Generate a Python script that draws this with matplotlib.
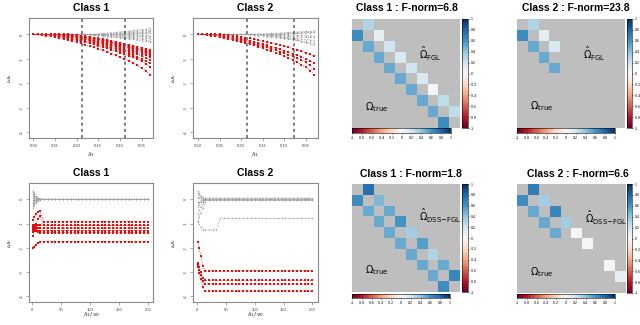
import numpy as np
import matplotlib
matplotlib.use('Agg')
import matplotlib.pyplot as plt

plt.rcParams['font.family'] = ['Liberation Sans', 'DejaVu Sans']
plt.rcParams['mathtext.fontset'] = 'dejavusans'

W, H = 640, 325

# ---------------- solution paths, top row (x = lambda_1) ----------------
lam = [0.30, 0.29, 0.28, 0.27, 0.26, 0.25, 0.24, 0.23, 0.22, 0.21, 0.20, 0.19, 0.18, 0.17,
       0.16, 0.15, 0.14, 0.13, 0.12, 0.11, 0.10, 0.09, 0.08, 0.07, 0.06, 0.05, 0.04, 0.03]

c1_red_top = [
    [0, 0, -0.02, -0.05, -0.08, -0.11, -0.15, -0.19, -0.23, -0.27, -0.32, -0.37, -0.42, -0.47,
     -0.53, -0.59, -0.65, -0.71, -0.78, -0.85, -0.92, -1.0, -1.08, -1.17, -1.26, -1.36, -1.5, -1.65],
    [0, 0, 0, -0.02, -0.04, -0.07, -0.1, -0.13, -0.17, -0.2, -0.24, -0.28, -0.32, -0.36,
     -0.41, -0.46, -0.51, -0.56, -0.62, -0.68, -0.74, -0.8, -0.87, -0.94, -1.02, -1.1, -1.2, -1.32],
    [0, 0, 0, 0, -0.02, -0.04, -0.07, -0.1, -0.13, -0.16, -0.2, -0.24, -0.28, -0.32,
     -0.36, -0.41, -0.46, -0.51, -0.56, -0.61, -0.67, -0.73, -0.79, -0.85, -0.92, -0.99, -1.08, -1.18],
    [0] * 5 + [-0.02, -0.04, -0.06, -0.09, -0.12, -0.15, -0.18, -0.22, -0.26, -0.3, -0.34, -0.39,
               -0.43, -0.48, -0.53, -0.58, -0.64, -0.7, -0.76, -0.82, -0.88, -0.96, -1.04],
    [0] * 6 + [-0.02, -0.04, -0.06, -0.09, -0.12, -0.15, -0.18, -0.22, -0.26, -0.3, -0.34, -0.38,
               -0.43, -0.47, -0.52, -0.57, -0.62, -0.67, -0.73, -0.79, -0.86, -0.93],
    [0] * 7 + [-0.01, -0.03, -0.05, -0.08, -0.11, -0.14, -0.17, -0.21, -0.25, -0.29, -0.33, -0.37,
               -0.41, -0.46, -0.5, -0.55, -0.6, -0.65, -0.7, -0.77, -0.85],
    [0] * 8 + [-0.01, -0.03, -0.05, -0.07, -0.1, -0.13, -0.16, -0.2, -0.24, -0.28, -0.32, -0.36,
               -0.4, -0.44, -0.49, -0.54, -0.59, -0.64, -0.7, -0.77],
    [0] * 8 + [-0.02, -0.04, -0.06, -0.08, -0.11, -0.14, -0.17, -0.2, -0.24, -0.27, -0.31, -0.35,
               -0.39, -0.43, -0.47, -0.52, -0.57, -0.62, -0.66, -0.7],
    [0] * 9 + [-0.01, -0.03, -0.05, -0.07, -0.1, -0.13, -0.16, -0.19, -0.22, -0.26, -0.3, -0.34,
               -0.38, -0.42, -0.46, -0.5, -0.54, -0.59, -0.64],
]
c1_gray_top = [
    [0] * 15 + [0.02, 0.04, 0.05, 0.07, 0.09, 0.1, 0.12, 0.14, 0.16, 0.18, 0.2, 0.22, 0.25],
    [0] * 17 + [0.02, 0.03, 0.05, 0.06, 0.08, 0.1, 0.11, 0.13, 0.14, 0.16, 0.18],
    [0] * 18 + [0.01, 0.02, 0.03, 0.04, 0.06, 0.07, 0.08, 0.09, 0.1, 0.12],
    [0] * 20 + [0.01, 0.02, 0.02, 0.03, 0.04, 0.05, 0.06, 0.07],
    [0] * 21 + [0.01, 0.01, 0.02, 0.03, 0.03, 0.04, 0.05],
    [0] * 19 + [-0.01, -0.01, -0.02, -0.02, -0.03, -0.03, -0.04, -0.04, -0.05],
    [0] * 16 + [-0.01, -0.01, -0.02, -0.02, -0.03, -0.04, -0.05, -0.06, -0.07, -0.08, -0.09, -0.1],
    [0] * 14 + [-0.01, -0.02, -0.03, -0.04, -0.05, -0.06, -0.07, -0.08, -0.1, -0.11, -0.13, -0.14,
                -0.16, -0.18],
    [0] * 13 + [-0.01, -0.02, -0.03, -0.05, -0.06, -0.08, -0.09, -0.11, -0.12, -0.14, -0.16, -0.18,
                -0.2, -0.22, -0.25],
    [0] * 12 + [-0.01, -0.02, -0.04, -0.05, -0.07, -0.09, -0.1, -0.12, -0.14, -0.16, -0.18, -0.2,
                -0.23, -0.25, -0.28, -0.32],
]

c2_red_top = [
    [0, 0, -0.02, -0.05, -0.08, -0.11, -0.14, -0.18, -0.22, -0.26, -0.3, -0.35, -0.4, -0.45,
     -0.5, -0.56, -0.62, -0.68, -0.74, -0.81, -0.88, -0.96, -1.04, -1.13, -1.23, -1.34, -1.48, -1.65],
    [0, 0, 0, -0.02, -0.04, -0.07, -0.1, -0.13, -0.17, -0.21, -0.25, -0.29, -0.33, -0.38,
     -0.43, -0.48, -0.53, -0.58, -0.64, -0.7, -0.76, -0.83, -0.9, -0.97, -1.05, -1.14, -1.26, -1.4],
    [0, 0, 0, 0, -0.02, -0.04, -0.06, -0.09, -0.12, -0.15, -0.19, -0.23, -0.27, -0.31,
     -0.35, -0.4, -0.45, -0.5, -0.55, -0.6, -0.66, -0.72, -0.78, -0.84, -0.91, -0.99, -1.08, -1.18],
    [0] * 6 + [-0.01, -0.03, -0.05, -0.07, -0.1, -0.13, -0.16, -0.19, -0.23, -0.27, -0.31, -0.35,
               -0.39, -0.43, -0.48, -0.53, -0.58, -0.63, -0.69, -0.75, -0.82, -0.9],
]
c2_gray_top = [
    [0] * 14 + [0.01, 0.02, 0.03, 0.04, 0.05, 0.06, 0.07, 0.08, 0.09, 0.1, 0.11, 0.12, 0.13, 0.15],
    [0] * 17 + [0.01, 0.01, 0.02, 0.03, 0.04, 0.04, 0.05, 0.06, 0.07, 0.08, 0.1],
    [0] * 20 + [0.01, 0.02, 0.03, 0.04, 0.05, 0.06, 0.07, 0.08],
    [0] * 19 + [-0.01, -0.02, -0.02, -0.03, -0.04, -0.04, -0.05, -0.06, -0.07],
    [0] * 15 + [-0.01, -0.02, -0.03, -0.04, -0.05, -0.06, -0.07, -0.08, -0.09, -0.1, -0.11, -0.12, -0.14],
    [0] * 13 + [-0.01, -0.02, -0.04, -0.05, -0.07, -0.08, -0.1, -0.11, -0.13, -0.15, -0.17, -0.19,
                -0.21, -0.23, -0.26],
    [0] * 12 + [-0.01, -0.03, -0.05, -0.07, -0.09, -0.11, -0.13, -0.15, -0.17, -0.19, -0.22, -0.24,
                -0.27, -0.3, -0.33, -0.37],
    [0] * 16 + [-0.02, -0.04, -0.07, -0.1, -0.13, -0.16, -0.2, -0.24, -0.29, -0.34, -0.39, -0.45],
]
c1_vlines = [0.187, 0.089]
c2_vlines = [0.187, 0.078]

# ---------------- solution paths, bottom row (x = lambda_1 / nu_0) ----------------
ratio = [1, 3, 6, 10, 13.3, 20, 26.7, 33.3, 40, 46.7, 53.3, 60, 66.7, 73.3, 80, 86.7, 93.3,
         100, 106.7, 113.3, 120, 126.7, 133.3, 140, 146.7, 153.3, 160, 166.7, 173.3, 180,
         186.7, 193.3, 200]

# (early values, level reached afterwards)
c1_red_bot = [
    ([-0.85, -0.75, -0.62, -0.53, -0.5], -0.92),
    ([-1.53, -1.3, -1.0, -0.8, -0.7], -1.08),
    ([-1.05, -1.06, -1.07, -1.08, -1.08], -1.08),
    ([-1.12, -1.14, -1.16, -1.18, -1.19], -1.19),
    ([-1.2, -1.2, -1.19, -1.19, -1.19], -1.19),
    ([-1.25, -1.27, -1.28, -1.29, -1.29], -1.29),
    ([-1.33, -1.31, -1.3, -1.29, -1.29], -1.29),
    ([-1.15, -1.22, -1.3, -1.35, -1.37], -1.37),
    ([-2.0, -1.95, -1.88, -1.8, -1.74], -1.74),
]
c1_gray_bot = [
    ([0.35, 0.25, 0.15, 0.06, 0.02], 0),
    ([0.28, 0.2, 0.1, 0.04, 0.01], 0),
    ([0.2, 0.14, 0.07, 0.03, 0.0], 0),
    ([0.12, 0.08, 0.04, 0.01, 0.0], 0),
    ([0.05, 0.03, 0.02, 0.0, 0.0], 0),
    ([-0.05, -0.03, -0.02, 0.0, 0.0], 0),
    ([-0.12, -0.08, -0.04, -0.01, 0.0], 0),
    ([-0.2, -0.14, -0.07, -0.03, 0.0], 0),
    ([-0.28, -0.2, -0.1, -0.04, -0.01], 0),
    ([-0.37, -0.26, -0.15, -0.06, -0.02], 0),
]
c2_red_bot = [
    ([-1.77, -2.0, -2.35, -2.75, -2.95], -2.95),
    ([-2.63, -2.8, -3.0, -3.25, -3.34], -3.34),
    ([-2.72, -2.9, -3.12, -3.38, -3.49], -3.49),
    ([-2.8, -3.02, -3.3, -3.62, -3.79], -3.79),
]
c2_gray_bot = [
    ([0.35, 0.26, 0.15, 0.07, 0.05], 0.05),
    ([0.25, 0.18, 0.1, 0.04, 0.02], 0.02),
    ([0.1, 0.06, 0.03, 0.01, 0.0], 0.0),
    ([-0.15, -0.1, -0.06, -0.03, -0.02], -0.02),
    ([-0.3, -0.22, -0.12, -0.06, -0.05], -0.05),
    ([-0.6, -0.45, -0.3, -0.15, -0.05], -0.05),
    ([-0.95, -0.75, -0.55, -0.35, -0.1], 0.0),
    ([-0.9, -1.0, -1.15, -1.26, -1.26, -1.26, -1.26, -1.26], -0.78),
]

# ---------------- precision matrices (10 x 10, first off-diagonal) ----------------
true_c1 = [0.62, 0.5, 0.5, 0.5, 0.5, 0.5, 0.5, 0.5, 0.62]
fgl_c1 = [0.3, 0.1, 0.2, 0.15, 0.2, 0.15, 0.02, 0.25, 0.25]
dss_c1 = [0.75, 0.45, 0.5, 0.6, 0.35, 0.55, 0.3, 0.5, 0.65]
true_c2 = [0.62, 0.5, 0.5, 0.5, 0, 0, 0, 0, 0]
fgl_c2 = [0.3, 0.1, 0.15, 0, 0, 0, 0, 0, 0]
dss_c2 = [0.7, 0.35, 0.65, 0.35, 0.02, 0.02, 0, 0.02, 0.1]

cbar_ticks = [-1, -0.8, -0.6, -0.4, -0.2, 0, 0.2, 0.4, 0.6, 0.8, 1]
cbar_labels = ['-1', '-0.8', '-0.6', '-0.4', '-0.2', '0', '0.2', '0.4', '0.6', '0.8', '1']

RED = '#e01010'
GRAY = '#a0a0a0'


def px_axes(fig, x0, y0, x1, y1):
    return fig.add_axes([x0 / W, 1 - y1 / H, (x1 - x0) / W, (y1 - y0) / H])


def fig_text(fig, x, y, s, **kw):
    fig.text(x / W, 1 - y / H, s, **kw)


def expand(early, level):
    return early + [level] * (len(ratio) - len(early))


def style_axes(ax):
    for sp in ax.spines.values():
        sp.set_color('#8a8a8a')
        sp.set_linewidth(0.8)
    ax.tick_params(length=2, width=0.5, color='#8a8a8a', labelsize=3, labelcolor='#404040', pad=2)
    ax.set_yticks([0, -1, -2, -3, -4])
    ax.set_yticklabels(['0', '-1', '-2', '-3', '-4'], rotation=90, va='center')


def path_panel(fig, box, x, red, gray, xlim, vlines=None):
    ax = px_axes(fig, *box)
    for g in gray:
        ax.plot(x, g, color=GRAY, ls='--', lw=0.4, marker='.', ms=1.9, mew=0)
    for r in red:
        ax.plot(x, r, color=RED, ls=':', lw=0.6, marker='s', ms=1.9, mew=0, zorder=3)
    if vlines:
        for v in vlines:
            ax.axvline(v, color='#5a5a6e', ls='--', lw=1.1, dashes=(2, 2), zorder=4)
    ax.set_xlim(*xlim)
    ax.set_ylim(-4.23, 0.67)
    style_axes(ax)
    return ax


def build_matrix(true, est):
    m = np.zeros((10, 10))
    for i in range(9):
        m[i + 1, i] = true[i]
        m[i, i + 1] = est[i]
    return np.ma.masked_where(m == 0, m)


def heat_panel(fig, img_box, vbar_box, hbar_box, true, est, est_label, est_xy, true_xy):
    cmap = plt.get_cmap('RdBu').copy()
    cmap.set_bad('#bebebe')
    ax = px_axes(fig, *img_box)
    im = ax.imshow(build_matrix(true, est), cmap=cmap, vmin=-1, vmax=1,
                   extent=(0, 10, 10, 0), aspect='auto', interpolation='nearest')
    ax.axis('off')
    ax.text(est_xy[0], est_xy[1], est_label, fontsize=7, va='center', ha='left')
    ax.text(true_xy[0], true_xy[1], r'$\Omega_{\mathrm{true}}$', fontsize=7, va='center', ha='left')

    vax = px_axes(fig, *vbar_box)
    cb = fig.colorbar(im, cax=vax, orientation='vertical')
    cb.set_ticks(cbar_ticks)
    cb.set_ticklabels(cbar_labels)
    cb.ax.tick_params(labelsize=2.5, length=1, width=0.4, pad=1)
    cb.outline.set_linewidth(0.4)

    hax = px_axes(fig, *hbar_box)
    cb2 = fig.colorbar(im, cax=hax, orientation='horizontal')
    cb2.set_ticks(cbar_ticks)
    cb2.set_ticklabels(cbar_labels)
    cb2.ax.tick_params(labelsize=2.5, length=1, width=0.4, pad=1)
    cb2.outline.set_linewidth(0.4)


fig = plt.figure(figsize=(6.4, 3.25), dpi=100)

title_kw = dict(fontsize=7.5, fontweight='bold', ha='center', va='center')
label_kw = dict(fontsize=4.5, ha='center', va='center', color='#303030')

# top row paths
ax = path_panel(fig, (29, 18, 153, 138), lam, c1_red_top, c1_gray_top, (0.31, 0.0236), c1_vlines)
ax.set_xticks([0.30, 0.25, 0.20, 0.15, 0.10, 0.05])
ax.set_xticklabels(['0.30', '0.25', '0.20', '0.15', '0.10', '0.05'])
ax = path_panel(fig, (193, 18, 318, 138), lam, c2_red_top, c2_gray_top, (0.312, 0.0214), c2_vlines)
ax.set_xticks([0.30, 0.25, 0.20, 0.15, 0.10, 0.05])
ax.set_xticklabels(['0.30', '0.25', '0.20', '0.15', '0.10', '0.05'])

# bottom row paths
for box, red, gray, xlim in [((29, 183, 153, 302), c1_red_bot, c1_gray_bot, (-5.7, 209)),
                             ((193, 183, 318, 302), c2_red_bot, c2_gray_bot, (-7.5, 210))]:
    ax = path_panel(fig, box, ratio, [expand(*r) for r in red], [expand(*g) for g in gray], xlim)
    ax.set_xticks([0, 50, 100, 150, 200])
    ax.set_xticklabels(['0', '50', '100', '150', '200'])

fig_text(fig, 91, 8, 'Class 1', **title_kw)
fig_text(fig, 255, 8, 'Class 2', **title_kw)
fig_text(fig, 91, 173, 'Class 1', **title_kw)
fig_text(fig, 255, 173, 'Class 2', **title_kw)
for xc, yl, xl in [(91, 155, r'$\lambda_1$'), (255, 155, r'$\lambda_1$'),
                   (91, 315, r'$\lambda_1/\nu_0$'), (255, 315, r'$\lambda_1/\nu_0$')]:
    fig_text(fig, xc, yl, xl, **label_kw)
for xc, yc in [(10, 78), (174, 78), (10, 243), (174, 243)]:
    fig_text(fig, xc, yc, r'$\omega_k$', rotation=90, **label_kw)

# heatmaps
heat_panel(fig, (352, 19, 460, 128), (462, 19, 468, 128), (352, 128, 451, 133),
           true_c1, fgl_c1, r'$\hat{\Omega}_{\mathrm{FGL}}$', (6.2, 3.2), (1.2, 8.1))
heat_panel(fig, (517, 19, 625, 128), (627, 19, 632, 128), (517, 128, 615, 133),
           true_c2, fgl_c2, r'$\hat{\Omega}_{\mathrm{FGL}}$', (6.1, 3.2), (1.2, 8.0))
heat_panel(fig, (352, 184, 460, 292), (462, 184, 468, 292), (352, 294, 450, 298),
           true_c1, dss_c1, r'$\hat{\Omega}_{\mathrm{DSS\!-\!FGL}}$', (6.2, 3.0), (1.2, 8.0))
heat_panel(fig, (517, 184, 626, 293), (627, 184, 632, 293), (517, 294, 615, 298),
           true_c2, dss_c2, r'$\hat{\Omega}_{\mathrm{DSS\!-\!FGL}}$', (6.2, 3.1), (1.2, 8.1))

fig_text(fig, 407, 8, 'Class 1 : F-norm=6.8', **title_kw)
fig_text(fig, 576, 8, 'Class 2 : F-norm=23.8', **title_kw)
fig_text(fig, 411, 174, 'Class 1 : F-norm=1.8', **title_kw)
fig_text(fig, 578, 174, 'Class 2 : F-norm=6.6', **title_kw)

fig.savefig('out.png', dpi=100)
